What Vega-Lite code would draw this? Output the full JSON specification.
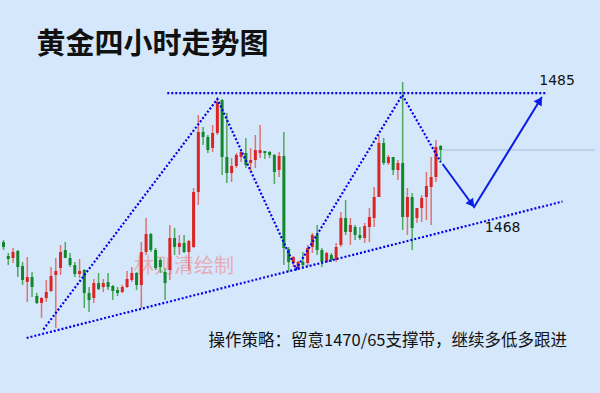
{
  "$schema": "https://vega.github.io/schema/vega-lite/v6.json",
  "width": 600,
  "height": 393,
  "autosize": {"type": "none"},
  "padding": 0,
  "background": "#d5e8fb",
  "config": {"view": {"stroke": null}},
  "datasets": {
    "candles": [
      {"i":0,"o":1464.13,"h":1464.41,"l":1463.01,"c":1463.43},
      {"i":1,"o":1462.17,"h":1462.59,"l":1460.91,"c":1461.75},
      {"i":2,"o":1461.89,"h":1463.29,"l":1461.19,"c":1462.73},
      {"i":3,"o":1462.87,"h":1463.01,"l":1459.23,"c":1460.63},
      {"i":4,"o":1460.77,"h":1461.33,"l":1458.11,"c":1458.81},
      {"i":5,"o":1458.53,"h":1462.03,"l":1455.74,"c":1459.23},
      {"i":6,"o":1459.23,"h":1459.93,"l":1456.43,"c":1457.83},
      {"i":7,"o":1456.57,"h":1456.99,"l":1455.46,"c":1455.60},
      {"i":8,"o":1455.60,"h":1456.43,"l":1453.50,"c":1456.29},
      {"i":9,"o":1456.29,"h":1458.81,"l":1455.74,"c":1457.13},
      {"i":10,"o":1457.27,"h":1460.63,"l":1457.13,"c":1459.37},
      {"i":11,"o":1459.51,"h":1461.89,"l":1452.10,"c":1460.07},
      {"i":12,"o":1460.49,"h":1463.71,"l":1459.51,"c":1462.73},
      {"i":13,"o":1463.01,"h":1464.13,"l":1461.89,"c":1461.89},
      {"i":14,"o":1461.89,"h":1462.59,"l":1460.63,"c":1460.91},
      {"i":15,"o":1460.91,"h":1461.33,"l":1459.23,"c":1459.65},
      {"i":16,"o":1459.65,"h":1461.75,"l":1459.09,"c":1460.07},
      {"i":17,"o":1460.21,"h":1460.35,"l":1454.90,"c":1456.99},
      {"i":18,"o":1456.99,"h":1457.83,"l":1454.34,"c":1456.01},
      {"i":19,"o":1456.29,"h":1458.95,"l":1455.60,"c":1458.39},
      {"i":20,"o":1458.39,"h":1459.79,"l":1457.41,"c":1457.55},
      {"i":21,"o":1457.83,"h":1458.95,"l":1457.13,"c":1458.39},
      {"i":22,"o":1458.53,"h":1459.79,"l":1457.41,"c":1457.83},
      {"i":23,"o":1457.97,"h":1458.11,"l":1456.01,"c":1457.27},
      {"i":24,"o":1457.41,"h":1457.83,"l":1456.57,"c":1456.99},
      {"i":25,"o":1457.13,"h":1458.11,"l":1456.99,"c":1457.83},
      {"i":26,"o":1457.83,"h":1460.07,"l":1457.69,"c":1458.95},
      {"i":27,"o":1458.81,"h":1460.63,"l":1458.53,"c":1459.79},
      {"i":28,"o":1459.79,"h":1459.93,"l":1457.41,"c":1458.11},
      {"i":29,"o":1458.11,"h":1464.13,"l":1454.90,"c":1462.73},
      {"i":30,"o":1462.73,"h":1467.49,"l":1462.31,"c":1465.25},
      {"i":31,"o":1465.25,"h":1465.39,"l":1462.73,"c":1463.01},
      {"i":32,"o":1463.01,"h":1463.29,"l":1460.21,"c":1460.49},
      {"i":33,"o":1461.61,"h":1461.89,"l":1459.79,"c":1460.63},
      {"i":34,"o":1459.93,"h":1460.49,"l":1456.01,"c":1458.39},
      {"i":35,"o":1460.21,"h":1466.51,"l":1458.81,"c":1464.69},
      {"i":36,"o":1464.69,"h":1466.09,"l":1462.31,"c":1463.43},
      {"i":37,"o":1463.43,"h":1465.11,"l":1462.31,"c":1463.99},
      {"i":38,"o":1463.99,"h":1465.11,"l":1462.59,"c":1462.73},
      {"i":39,"o":1462.73,"h":1464.41,"l":1460.21,"c":1464.27},
      {"i":40,"o":1463.43,"h":1471.69,"l":1463.29,"c":1471.13},
      {"i":41,"o":1471.13,"h":1481.91,"l":1469.31,"c":1479.53},
      {"i":42,"o":1479.53,"h":1480.23,"l":1477.71,"c":1478.83},
      {"i":43,"o":1478.83,"h":1479.11,"l":1476.59,"c":1477.01},
      {"i":44,"o":1477.29,"h":1480.51,"l":1476.73,"c":1479.39},
      {"i":45,"o":1479.39,"h":1484.28,"l":1479.11,"c":1483.73},
      {"i":46,"o":1484.00,"h":1484.14,"l":1473.51,"c":1476.03},
      {"i":47,"o":1476.03,"h":1482.19,"l":1472.39,"c":1473.79},
      {"i":48,"o":1473.79,"h":1475.89,"l":1472.53,"c":1474.77},
      {"i":49,"o":1474.77,"h":1476.59,"l":1474.49,"c":1476.31},
      {"i":50,"o":1476.03,"h":1477.01,"l":1475.33,"c":1476.73},
      {"i":51,"o":1476.59,"h":1478.69,"l":1474.49,"c":1474.91},
      {"i":52,"o":1475.19,"h":1477.29,"l":1473.93,"c":1475.61},
      {"i":53,"o":1475.61,"h":1479.11,"l":1474.49,"c":1477.01},
      {"i":54,"o":1476.59,"h":1480.51,"l":1475.89,"c":1477.01},
      {"i":55,"o":1476.87,"h":1476.87,"l":1475.75,"c":1476.59},
      {"i":56,"o":1476.73,"h":1476.87,"l":1475.89,"c":1476.31},
      {"i":57,"o":1476.31,"h":1476.45,"l":1472.25,"c":1473.93},
      {"i":58,"o":1474.21,"h":1476.73,"l":1473.23,"c":1476.17},
      {"i":59,"o":1476.17,"h":1479.53,"l":1460.91,"c":1463.29},
      {"i":60,"o":1463.15,"h":1463.43,"l":1459.93,"c":1461.33},
      {"i":61,"o":1461.19,"h":1462.17,"l":1460.63,"c":1462.03},
      {"i":62,"o":1460.49,"h":1461.47,"l":1460.21,"c":1461.33},
      {"i":63,"o":1461.33,"h":1462.73,"l":1460.63,"c":1460.91},
      {"i":64,"o":1461.19,"h":1463.71,"l":1460.63,"c":1463.29},
      {"i":65,"o":1463.43,"h":1465.39,"l":1462.59,"c":1465.11},
      {"i":66,"o":1465.11,"h":1466.51,"l":1462.31,"c":1463.01},
      {"i":67,"o":1463.01,"h":1463.29,"l":1460.63,"c":1461.33},
      {"i":68,"o":1461.33,"h":1462.73,"l":1461.19,"c":1462.59},
      {"i":69,"o":1462.31,"h":1462.59,"l":1461.33,"c":1461.61},
      {"i":70,"o":1461.61,"h":1463.99,"l":1461.33,"c":1463.43},
      {"i":71,"o":1463.71,"h":1468.33,"l":1463.43,"c":1467.49},
      {"i":72,"o":1467.49,"h":1470.01,"l":1465.11,"c":1465.53},
      {"i":73,"o":1465.53,"h":1467.49,"l":1463.71,"c":1466.51},
      {"i":74,"o":1466.23,"h":1466.51,"l":1464.41,"c":1465.11},
      {"i":75,"o":1465.11,"h":1466.23,"l":1464.41,"c":1464.69},
      {"i":76,"o":1464.69,"h":1466.79,"l":1463.99,"c":1466.37},
      {"i":77,"o":1466.23,"h":1468.89,"l":1464.13,"c":1467.63},
      {"i":78,"o":1467.49,"h":1471.83,"l":1466.23,"c":1470.43},
      {"i":79,"o":1470.43,"h":1479.11,"l":1470.43,"c":1477.99},
      {"i":80,"o":1477.99,"h":1478.69,"l":1474.91,"c":1475.19},
      {"i":81,"o":1475.19,"h":1476.31,"l":1474.91,"c":1476.03},
      {"i":82,"o":1476.03,"h":1476.03,"l":1473.51,"c":1474.21},
      {"i":83,"o":1474.21,"h":1475.61,"l":1472.81,"c":1475.19},
      {"i":84,"o":1475.19,"h":1486.52,"l":1465.81,"c":1467.63},
      {"i":85,"o":1467.63,"h":1471.69,"l":1465.11,"c":1470.43},
      {"i":86,"o":1470.43,"h":1470.99,"l":1463.01,"c":1466.09},
      {"i":87,"o":1467.49,"h":1468.89,"l":1466.79,"c":1468.89},
      {"i":88,"o":1468.89,"h":1470.71,"l":1466.93,"c":1470.29},
      {"i":89,"o":1470.43,"h":1473.93,"l":1467.21,"c":1471.97},
      {"i":90,"o":1471.83,"h":1476.03,"l":1466.51,"c":1473.23},
      {"i":91,"o":1473.23,"h":1478.41,"l":1472.53,"c":1477.43},
      {"i":92,"o":1477.57,"h":1477.71,"l":1475.19,"c":1477.01}
    ],
    "dotted": [
      {"seg":"top","k":0,"i":34.46,"p":1484.98},
      {"seg":"top","k":1,"i":114.34,"p":1484.98},
      {"seg":"support","k":0,"i":4.86,"p":1450.70},
      {"seg":"support","k":1,"i":117.65,"p":1469.80},
      {"seg":"zig","k":0,"i":8.38,"p":1451.89},
      {"seg":"zig","k":1,"i":45.01,"p":1484.14},
      {"seg":"zig","k":2,"i":61.57,"p":1460.35},
      {"seg":"zig","k":3,"i":83.92,"p":1484.70},
      {"seg":"zig","k":4,"i":91.99,"p":1475.33}
    ],
    "arrows": [
      {"seg":"a","k":0,"i":92.40,"p":1475.05},
      {"seg":"a","k":1,"i":99.03,"p":1469.03},
      {"seg":"a","k":2,"i":113.31,"p":1484.42}
    ],
    "heads": [
      {"i":98.53,"p":1469.48,"ang":143},
      {"i":112.87,"p":1483.95,"ang":32}
    ],
    "levels": [
      {"i":112.75,"p":1486.66,"label":"1485"},
      {"i":101.3,"p":1466.09,"label":"1468"}
    ],
    "last": [
      {"i":92.4,"i2":124.48,"p":1477.01}
    ],
    "title": [
      {"i":31.35,"p":1491.77,"label":"黄金四小时走势图"}
    ],
    "note": [
      {"i":43.15,"p":1450.21,"label":"操作策略：留意1470/65支撑带，继续多低多跟进"}
    ],
    "mark": [
      {"i":37.98,"p":1460.70,"label":"林则清绘制"}
    ]
  },
  "layer": [
    {
      "data": {"name": "mark"},
      "mark": {"type": "text", "font": "Noto Sans CJK SC", "fontSize": 20, "color": "#e8a3ad", "opacity": 0.85, "align": "center", "baseline": "middle"},
      "encoding": {
        "x": {"field": "i", "type": "quantitative", "scale": {"domain": [0.31, 124.48], "nice": false, "zero": false}, "axis": null},
        "y": {"field": "p", "type": "quantitative", "scale": {"domain": [1443, 1498], "nice": false, "zero": false}, "axis": null},
        "text": {"field": "label"}
      }
    },
    {
      "data": {"name": "last"},
      "mark": {"type": "rule", "color": "#b4cbe2", "strokeWidth": 1.5},
      "encoding": {
        "x": {"field": "i", "type": "quantitative", "scale": {"domain": [0.31, 124.48], "nice": false, "zero": false}, "axis": null},
        "x2": {"field": "i2"},
        "y": {"field": "p", "type": "quantitative", "scale": {"domain": [1443, 1498], "nice": false, "zero": false}, "axis": null}
      }
    },
    {
      "data": {"name": "candles"},
      "mark": {"type": "rule", "strokeWidth": 1.5},
      "encoding": {
        "x": {"field": "i", "type": "quantitative", "scale": {"domain": [0.31, 124.48], "nice": false, "zero": false}, "axis": null},
        "y": {"field": "l", "type": "quantitative", "scale": {"domain": [1443, 1498], "nice": false, "zero": false}, "axis": null},
        "y2": {"field": "h"},
        "color": {"condition": {"test": "datum.c >= datum.o", "value": "#e07272"}, "value": "#4fa85c"}
      }
    },
    {
      "data": {"name": "candles"},
      "mark": {"type": "bar", "size": 3, "orient": "vertical"},
      "encoding": {
        "x": {"field": "i", "type": "quantitative", "scale": {"domain": [0.31, 124.48], "nice": false, "zero": false}, "axis": null},
        "y": {"field": "o", "type": "quantitative", "scale": {"domain": [1443, 1498], "nice": false, "zero": false}, "axis": null},
        "y2": {"field": "c"},
        "color": {"condition": {"test": "datum.c >= datum.o", "value": "#dc2424"}, "value": "#12862a"}
      }
    },
    {
      "data": {"name": "dotted"},
      "mark": {"type": "line", "color": "#0000ee", "strokeWidth": 2.2, "strokeDash": [2, 2]},
      "encoding": {
        "x": {"field": "i", "type": "quantitative", "scale": {"domain": [0.31, 124.48], "nice": false, "zero": false}, "axis": null},
        "y": {"field": "p", "type": "quantitative", "scale": {"domain": [1443, 1498], "nice": false, "zero": false}, "axis": null},
        "detail": {"field": "seg"},
        "order": {"field": "k"}
      }
    },
    {
      "data": {"name": "arrows"},
      "mark": {"type": "line", "color": "#0a1ee8", "strokeWidth": 2},
      "encoding": {
        "x": {"field": "i", "type": "quantitative", "scale": {"domain": [0.31, 124.48], "nice": false, "zero": false}, "axis": null},
        "y": {"field": "p", "type": "quantitative", "scale": {"domain": [1443, 1498], "nice": false, "zero": false}, "axis": null},
        "detail": {"field": "seg"},
        "order": {"field": "k"}
      }
    },
    {
      "data": {"name": "heads"},
      "mark": {"type": "point", "shape": "triangle-up", "filled": true, "color": "#0a1ee8", "opacity": 1, "size": 90},
      "encoding": {
        "x": {"field": "i", "type": "quantitative", "scale": {"domain": [0.31, 124.48], "nice": false, "zero": false}, "axis": null},
        "y": {"field": "p", "type": "quantitative", "scale": {"domain": [1443, 1498], "nice": false, "zero": false}, "axis": null},
        "angle": {"field": "ang", "type": "quantitative", "scale": null}
      }
    },
    {
      "data": {"name": "levels"},
      "mark": {"type": "text", "font": "DejaVu Sans", "fontSize": 14, "color": "#111111", "align": "left", "baseline": "middle"},
      "encoding": {
        "x": {"field": "i", "type": "quantitative", "scale": {"domain": [0.31, 124.48], "nice": false, "zero": false}, "axis": null},
        "y": {"field": "p", "type": "quantitative", "scale": {"domain": [1443, 1498], "nice": false, "zero": false}, "axis": null},
        "text": {"field": "label"}
      }
    },
    {
      "data": {"name": "title"},
      "mark": {"type": "text", "font": "Noto Sans CJK SC", "fontSize": 29, "fontWeight": "bold", "color": "#111111", "align": "center", "baseline": "middle"},
      "encoding": {
        "x": {"field": "i", "type": "quantitative", "scale": {"domain": [0.31, 124.48], "nice": false, "zero": false}, "axis": null},
        "y": {"field": "p", "type": "quantitative", "scale": {"domain": [1443, 1498], "nice": false, "zero": false}, "axis": null},
        "text": {"field": "label"}
      }
    },
    {
      "data": {"name": "note"},
      "mark": {"type": "text", "font": "Noto Sans CJK SC", "fontSize": 16.5, "color": "#111111", "align": "left", "baseline": "middle"},
      "encoding": {
        "x": {"field": "i", "type": "quantitative", "scale": {"domain": [0.31, 124.48], "nice": false, "zero": false}, "axis": null},
        "y": {"field": "p", "type": "quantitative", "scale": {"domain": [1443, 1498], "nice": false, "zero": false}, "axis": null},
        "text": {"field": "label"}
      }
    }
  ]
}
